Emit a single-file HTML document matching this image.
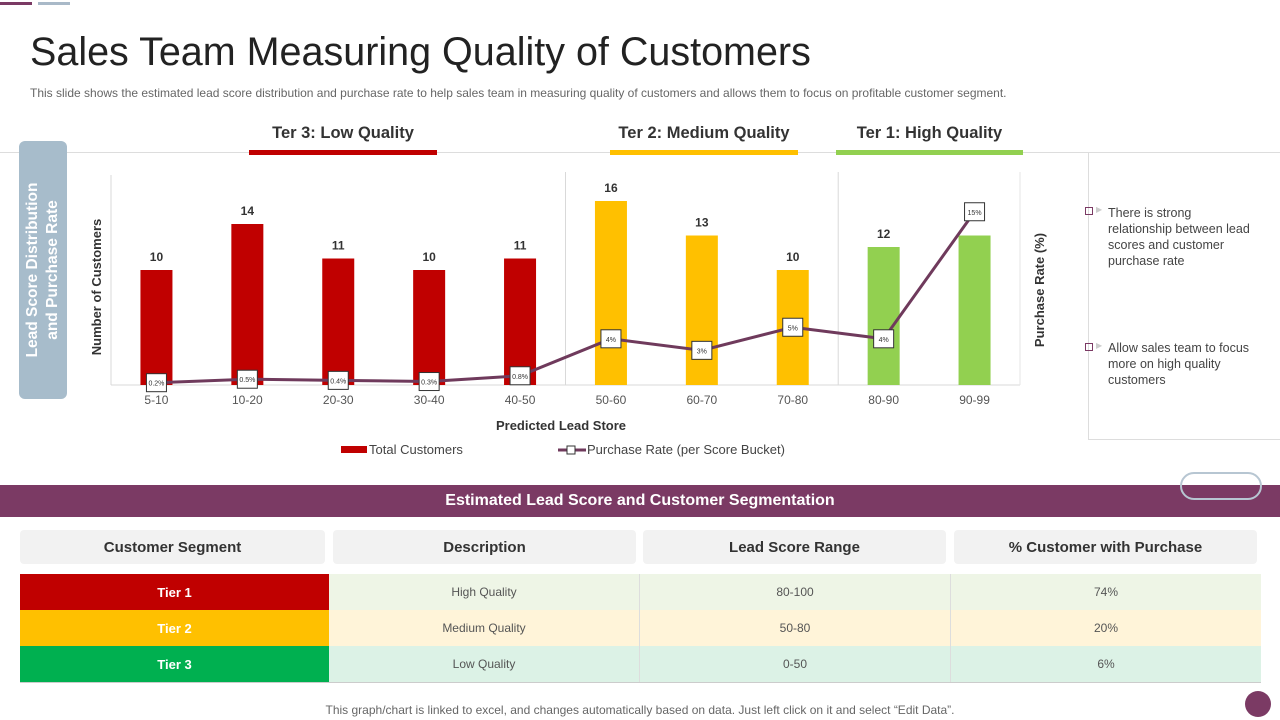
<!DOCTYPE html>
<html><head><meta charset="utf-8">
<style>
body{margin:0;width:1280px;height:720px;position:relative;background:#fff;font-family:"Liberation Sans",sans-serif;overflow:hidden}
.abs{position:absolute}
.th{position:absolute;top:530px;height:34px;background:#f2f2f2;border-radius:4px;font-size:15px;color:#333;display:flex;align-items:center;justify-content:center;font-weight:bold}
.cell{position:absolute;height:36px;display:flex;align-items:center;justify-content:center;font-size:12px;color:#555;border-right:1px solid #ddd}
</style></head><body>
<div class="abs" style="left:0;top:2px;width:32px;height:3px;background:#7b3a64"></div>
<div class="abs" style="left:38px;top:2px;width:32px;height:3px;background:#a9b9c8"></div>
<div class="abs" style="left:30px;top:30px;font-size:39.5px;color:#222">Sales Team Measuring Quality of Customers</div>
<div class="abs" style="left:30px;top:86px;font-size:12px;color:#666">This slide shows the estimated lead score distribution and purchase rate to help sales team in measuring quality of customers and allows them to focus on profitable customer segment.</div>

<div class="abs" style="left:0;top:152px;width:1088px;height:1px;background:#ddd"></div>
<div class="abs" style="left:1088px;top:152px;width:200px;height:286px;border-left:1px solid #ddd;border-top:1px solid #ddd;border-bottom:1px solid #ddd"></div>
<div class="abs" style="left:19px;top:141px;width:48px;height:258px;background:#a7bccb;border-radius:6px"></div>
<div class="abs" style="left:43px;top:270px;width:260px;transform:translate(-50%,-50%) rotate(-90deg);text-align:center;color:#fff;font-weight:bold;font-size:15.5px;line-height:20px">Lead Score Distribution<br>and Purchase Rate</div>

<div class="abs" style="left:249px;top:124px;width:188px;text-align:center;font-size:16.5px;font-weight:bold;color:#333">Ter 3: Low Quality</div>
<div class="abs" style="left:249px;top:150px;width:188px;height:5px;background:#c00000"></div>
<div class="abs" style="left:610px;top:124px;width:188px;text-align:center;font-size:16.5px;font-weight:bold;color:#333">Ter 2: Medium Quality</div>
<div class="abs" style="left:610px;top:150px;width:188px;height:5px;background:#ffc000"></div>
<div class="abs" style="left:836px;top:124px;width:187px;text-align:center;font-size:16.5px;font-weight:bold;color:#333">Ter 1: High Quality</div>
<div class="abs" style="left:836px;top:150px;width:187px;height:5px;background:#92d050"></div>

<svg id="chart" class="abs" style="left:0;top:0" width="1280" height="470"></svg>

<div class="abs" style="left:1085px;top:207px;width:6px;height:6px;border:1px solid #7b3a64"></div>
<div class="abs" style="left:1096px;top:205px;font-size:8px;color:#ccc">▶</div>
<div class="abs" style="left:1108px;top:205px;width:142px;font-size:12.5px;color:#444;line-height:16px">There is strong relationship between lead scores and customer purchase rate</div>
<div class="abs" style="left:1085px;top:343px;width:6px;height:6px;border:1px solid #7b3a64"></div>
<div class="abs" style="left:1096px;top:341px;font-size:8px;color:#ccc">▶</div>
<div class="abs" style="left:1108px;top:340px;width:142px;font-size:12.5px;color:#444;line-height:16px">Allow sales team to focus more on high quality customers</div>

<div class="abs" style="left:0;top:485px;width:1280px;height:32px;background:#7b3a64;color:#fff;font-weight:bold;font-size:16px;display:flex;align-items:center;justify-content:center">Estimated Lead Score and Customer Segmentation</div>
<div class="abs" style="left:1180px;top:472px;width:78px;height:24px;border:2px solid #b7c6d2;border-radius:14px"></div>
<div class="th" style="left:20px;width:305px">Customer Segment</div>
<div class="th" style="left:333px;width:303px">Description</div>
<div class="th" style="left:643px;width:303px">Lead Score Range</div>
<div class="th" style="left:954px;width:303px">% Customer with Purchase</div>

<div>
<div class="cell" style="left:20px;top:574px;width:309px;background:#c00000;color:#fff;font-weight:bold;font-size:13px">Tier 1</div>
<div class="cell" style="left:329px;top:574px;width:310px;background:#eef5e6">High Quality</div>
<div class="cell" style="left:640px;top:574px;width:310px;background:#eef5e6">80-100</div>
<div class="cell" style="left:951px;top:574px;width:310px;background:#eef5e6;border-right:none">74%</div>
</div>
<div>
<div class="cell" style="left:20px;top:610px;width:309px;background:#ffc000;color:#fff;font-weight:bold;font-size:13px">Tier 2</div>
<div class="cell" style="left:329px;top:610px;width:310px;background:#fff4d9">Medium Quality</div>
<div class="cell" style="left:640px;top:610px;width:310px;background:#fff4d9">50-80</div>
<div class="cell" style="left:951px;top:610px;width:310px;background:#fff4d9;border-right:none">20%</div>
</div>
<div>
<div class="cell" style="left:20px;top:646px;width:309px;background:#00b050;color:#fff;font-weight:bold;font-size:13px">Tier 3</div>
<div class="cell" style="left:329px;top:646px;width:310px;background:#dcf2e6">Low Quality</div>
<div class="cell" style="left:640px;top:646px;width:310px;background:#dcf2e6">0-50</div>
<div class="cell" style="left:951px;top:646px;width:310px;background:#dcf2e6;border-right:none">6%</div>
</div>
<div class="abs" style="left:20px;top:682px;width:1241px;height:1px;background:#ccc"></div>
<div class="abs" style="left:0;top:703px;width:1280px;text-align:center;font-size:12px;color:#666">This graph/chart is linked to excel, and changes automatically based on data. Just left click on it and select “Edit Data”.</div>
<div class="abs" style="left:1245px;top:691px;width:26px;height:26px;border-radius:50%;background:#7b3a64"></div>

<script>
const categories=["5-10","10-20","20-30","30-40","40-50","50-60","60-70","70-80","80-90","90-99"];
const customers=[10,14,11,10,11,16,13,10,12,13];
const showLabel=[true,true,true,true,true,true,true,true,true,false];
const purchaseRate=[0.2,0.5,0.4,0.3,0.8,4,3,5,4,15];
const rateLabels=["0.2%","0.5%","0.4%","0.3%","0.8%","4%","3%","5%","4%","15%"];
const barColors=["#c00000","#c00000","#c00000","#c00000","#c00000","#ffc000","#ffc000","#ffc000","#92d050","#92d050"];

const svg=document.getElementById('chart');
const NS='http://www.w3.org/2000/svg';
const x0=111,x1=1020,base=385;
const step=(x1-x0)/categories.length;
const xC=i=>x0+step*(i+0.5);
const yB=v=>base-v*11.5;
const yR=v=>base-v*11.55;
function mk(t,a,txt){const e=document.createElementNS(NS,t);for(const k in a)e.setAttribute(k,a[k]);if(txt!==undefined)e.textContent=txt;svg.appendChild(e);return e;}

let e;
e=mk('line',{x1:x0,y1:175,x2:x0,y2:base,stroke:'#d9d9d9'});


e=mk('line',{x1:x0,y1:base,x2:x1,y2:base,stroke:'#d9d9d9'});


[5,8].forEach(k=>{const xx=x0+step*k;e=mk('line',{x1:xx,y1:172,x2:xx,y2:base,stroke:'#d9d9d9'});

});
e=mk('line',{x1:x1,y1:172,x2:x1,y2:base,stroke:'#e6e6e6'});



categories.forEach((c,i)=>{
 const cx=xC(i);
 e=mk('rect',{x:cx-16,y:yB(customers[i]),width:32,height:base-yB(customers[i]),fill:barColors[i]});
 
 
 if(showLabel[i]){e=mk('text',{x:cx,y:yB(customers[i])-9,'text-anchor':'middle','font-size':12,'font-weight':'bold',fill:'#333'},customers[i]);
 
 }
 e=mk('text',{x:cx,y:base+19,'text-anchor':'middle','font-size':12,fill:'#555'},c);
 
 
});
const pts=purchaseRate.map((v,i)=>xC(i)+','+yR(v)).join(' ');
e=mk('polyline',{points:pts,fill:'none',stroke:'#6f3a5c','stroke-width':3});


purchaseRate.forEach((v,i)=>{
 const cx=xC(i),cy=yR(v);
 e=mk('rect',{x:cx-10,y:cy-9,width:20,height:18,fill:'#fff',stroke:'#333','stroke-width':1});
 
 
 e=mk('text',{x:cx,y:cy+3,'text-anchor':'middle','font-size':7,fill:'#333'},rateLabels[i]);
 
 
});
e=mk('text',{x:0,y:0,transform:'translate(101,287) rotate(-90)','text-anchor':'middle','font-size':13,'font-weight':'bold',fill:'#333'},'Number of Customers');


e=mk('text',{x:0,y:0,transform:'translate(1044,290) rotate(-90)','text-anchor':'middle','font-size':13,'font-weight':'bold',fill:'#333'},'Purchase Rate (%)');


e=mk('text',{x:561,y:430,'text-anchor':'middle','font-size':13,'font-weight':'bold',fill:'#333'},'Predicted Lead Store');


e=mk('rect',{x:341,y:446,width:26,height:7,fill:'#c00000'});


e=mk('text',{x:369,y:454,'font-size':13,fill:'#444'},'Total Customers');


e=mk('line',{x1:558,y1:450,x2:586,y2:450,stroke:'#6f3a5c','stroke-width':3});


e=mk('rect',{x:567,y:446,width:8,height:8,fill:'#fff',stroke:'#333'});


e=mk('text',{x:587,y:454,'font-size':13,fill:'#444'},'Purchase Rate (per Score Bucket)');


</script>
</body></html>
